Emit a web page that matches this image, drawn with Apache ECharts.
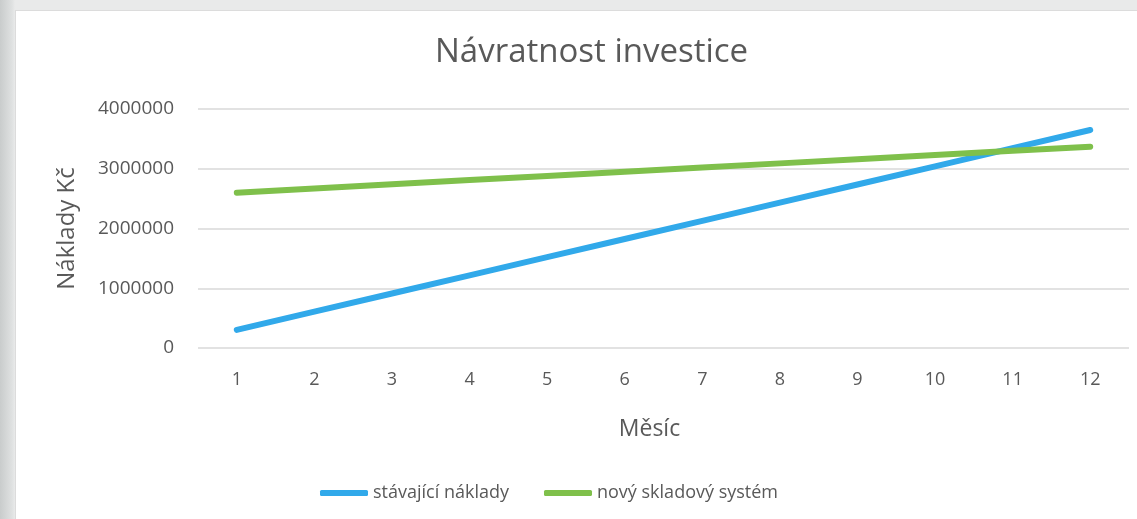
<!DOCTYPE html>
<html>
<head>
<meta charset="utf-8">
<script src="https://cdn.jsdelivr.net/npm/echarts@6/dist/echarts.min.js"></script>
<title>Návratnost investice</title>
<style>
  html, body { margin: 0; padding: 0; }
  body { width: 1137px; height: 519px; background: linear-gradient(90deg, #c9cccc 0px, #dfe1e1 12px, #e9eaea 15px); position: relative; overflow: hidden; }
  #chart { position: absolute; left: 15px; top: 10px; width: 1122px; height: 509px; background: #fff; border-left: 1px solid #dcdcdc; border-top: 1px solid #dcdcdc; box-sizing: border-box; }
</style>
</head>
<body>
<div id="chart"></div>
<script>
var months = ["1", "2", "3", "4", "5", "6", "7", "8", "9", "10", "11", "12"];
var currentCosts = [304000, 608000, 912000, 1216000, 1520000, 1824000, 2128000, 2432000, 2736000, 3040000, 3344000, 3648000];
var newSystem = [2600000, 2670000, 2740000, 2810000, 2880000, 2950000, 3020000, 3090000, 3160000, 3230000, 3300000, 3370000];
var seriesNames = ["stávající náklady", "nový skladový systém"];
var colors = ["#31a9ea", "#7fc04b"];

var font = "'Open Sans', sans-serif";
var chart = echarts.init(document.getElementById("chart"));
chart.setOption({
  animation: false,
  color: colors,
  title: {
    text: "Návratnost investice",
    left: 414,
    top: 20,
    textStyle: { fontFamily: font, fontSize: 33, fontWeight: "normal", color: "#595959" }
  },
  legend: {
    left: 299,
    top: 468,
    itemWidth: 48,
    itemHeight: 6,
    itemGap: 35,
    icon: "roundRect",
    textStyle: { fontFamily: font, fontSize: 18, color: "#595959" },
    data: seriesNames
  },
  grid: { left: 182, right: 8, top: 98, bottom: 171 },
  xAxis: {
    type: "category",
    data: months,
    name: "Měsíc",
    nameLocation: "middle",
    nameGap: 70,
    nameTextStyle: { fontFamily: font, fontSize: 23, color: "#595959", padding: [0, 28, 0, 0] },
    axisLine: { show: false },
    axisTick: { show: false },
    axisLabel: { margin: 23, fontFamily: font, fontSize: 18, color: "#595959" }
  },
  yAxis: {
    type: "value",
    min: 0,
    max: 4000000,
    interval: 1000000,
    name: "Náklady Kč",
    nameLocation: "middle",
    nameGap: 119,
    nameTextStyle: { fontFamily: font, fontSize: 24, color: "#595959" },
    axisLabel: { margin: 24, fontFamily: font, fontSize: 19, color: "#595959", formatter: function (v) { return String(v); } },
    splitLine: { lineStyle: { color: "#d9d9d9", width: 1.5 } }
  },
  series: [
    {
      name: seriesNames[0],
      type: "line",
      data: currentCosts,
      showSymbol: false,
      symbol: "none",
      lineStyle: { width: 6, cap: "round" }
    },
    {
      name: seriesNames[1],
      type: "line",
      data: newSystem,
      showSymbol: false,
      symbol: "none",
      lineStyle: { width: 6, cap: "round" }
    }
  ]
});
</script>
</body>
</html>
